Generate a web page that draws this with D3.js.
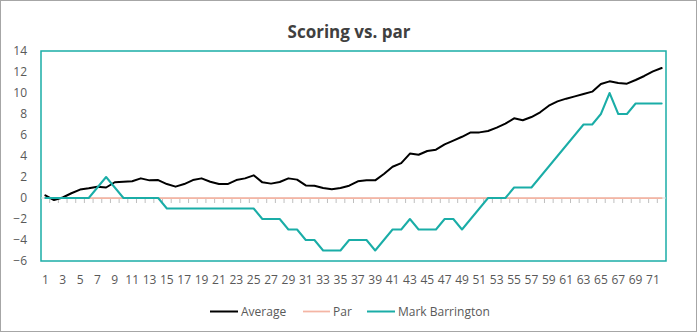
<!DOCTYPE html>
<html>
<head>
<meta charset="utf-8">
<script src="https://cdn.jsdelivr.net/npm/d3@7"></script>
<style>
  html, body { margin: 0; padding: 0; background: #fff; }
  svg { display: block; }
  text { font-family: "Open Sans", "Noto Sans", sans-serif; }
</style>
</head>
<body>
<svg id="chart" width="699" height="333"></svg>
<script>
const categories = d3.range(1, 73);
const average = [
  0.25, -0.2, 0.05, 0.45, 0.8, 0.92, 1.08, 1.0, 1.5, 1.55,
  1.6, 1.87, 1.68, 1.71, 1.33, 1.08, 1.33, 1.71, 1.87, 1.55,
  1.33, 1.33, 1.71, 1.87, 2.16, 1.49, 1.37, 1.52, 1.87, 1.75,
  1.2, 1.17, 0.95, 0.83, 0.95, 1.17, 1.59, 1.68, 1.68, 2.29,
  2.98, 3.32, 4.23, 4.12, 4.48, 4.6, 5.11, 5.46, 5.83, 6.25,
  6.25, 6.38, 6.7, 7.08, 7.59, 7.4, 7.71, 8.16, 8.79, 9.2,
  9.46, 9.68, 9.9, 10.13, 10.86, 11.11, 10.95, 10.89, 11.24, 11.62,
  12.06, 12.38
];
const par = categories.map(() => 0);
const markBarrington = [
  0, 0, 0, 0, 0, 0, 1, 2, 1, 0,
  0, 0, 0, 0, -1, -1, -1, -1, -1, -1,
  -1, -1, -1, -1, -1, -2, -2, -2, -3, -3,
  -4, -4, -5, -5, -5, -4, -4, -4, -5, -4,
  -3, -3, -2, -3, -3, -3, -2, -2, -3, -2,
  -1, 0, 0, 0, 1, 1, 1, 2, 3, 4,
  5, 6, 7, 7, 8, 10, 8, 8, 9, 9,
  9, 9
];
const yTicks = [-6, -4, -2, 0, 2, 4, 6, 8, 10, 12, 14];
const seriesNames = ["Average", "Par", "Mark Barrington"];
const seriesColors = ["#000000", "#F4B5A4", "#1AADA7"];

(function () {
const svg = d3.select("#chart");
const pL = 41, pR = 666, pT = 51, pB = 261;

// outer border
svg.append("rect").attr("x", 0.5).attr("y", 0.5).attr("width", 696).attr("height", 331)
  .attr("fill", "#fff").attr("stroke", "#A6A6A6").attr("stroke-width", 1);

// title
svg.append("text").attr("x", 349).attr("y", 38).attr("text-anchor", "middle")
  .attr("font-size", 17).attr("font-weight", "bold").attr("fill", "#404040")
  .text("Scoring vs. par");

const x = d3.scaleBand().domain(categories).range([pL, pR]).padding(0);
const cx = d => x(d) + x.bandwidth() / 2;
const y = d3.scaleLinear().domain([-6, 14]).range([pB, pT]);

// plot area border
svg.append("rect").attr("x", pL).attr("y", pT).attr("width", pR - pL).attr("height", pB - pT)
  .attr("fill", "none").attr("stroke", "#1AADA7").attr("stroke-width", 1.5);

// y axis labels
const yAxis = d3.axisLeft(y).tickValues(yTicks).tickSize(0).tickPadding(14);
const gy = svg.append("g").attr("transform", `translate(${pL},0)`).call(yAxis);
gy.select(".domain").remove();
gy.selectAll("text").attr("font-size", 12).attr("fill", "#595959")
  .style("font-family", "'Open Sans', 'Noto Sans', sans-serif");

// x axis line at zero with tick marks between categories
const boundaries = d3.range(1, categories.length).map(i => pL + i * x.bandwidth());
svg.append("g").selectAll("line").data(boundaries).join("line")
  .attr("x1", d => d).attr("x2", d => d)
  .attr("y1", y(0)).attr("y2", y(0) + 5)
  .attr("stroke", "#BFBFBF").attr("stroke-width", 1);
svg.append("line").attr("x1", pL).attr("x2", pR).attr("y1", y(0)).attr("y2", y(0))
  .attr("stroke", "#D9D9D9").attr("stroke-width", 1);

// x labels (odd categories) at bottom
const xAxis = d3.axisBottom(x).tickValues(categories.filter(c => c % 2 === 1)).tickSize(0).tickPadding(0);
const gx = svg.append("g").attr("transform", `translate(0,${pB + 14})`).call(xAxis);
gx.select(".domain").remove();
gx.selectAll("text").attr("font-size", 12).attr("fill", "#595959")
  .style("font-family", "'Open Sans', 'Noto Sans', sans-serif");

// series
const line = d3.line().x((d, i) => cx(categories[i])).y(d => y(d));
const seriesData = [average, par, markBarrington];
const widths = [2, 1.75, 2];
seriesData.forEach((s, k) => {
  svg.append("path").datum(s).attr("d", line)
    .attr("fill", "none").attr("stroke", seriesColors[k]).attr("stroke-width", widths[k])
    .attr("stroke-linejoin", "round").attr("stroke-linecap", "round");
});

// legend
const legendItems = [
  { x1: 210, x2: 238, tx: 241 },
  { x1: 303, x2: 330, tx: 333 },
  { x1: 367, x2: 395, tx: 398 }
];
const lg = svg.append("g");
legendItems.forEach((it, k) => {
  lg.append("line").attr("x1", it.x1).attr("x2", it.x2).attr("y1", 311.5).attr("y2", 311.5)
    .attr("stroke", seriesColors[k]).attr("stroke-width", widths[k]);
  lg.append("text").attr("x", it.tx).attr("y", 311.5).attr("dy", "0.35em")
    .attr("font-size", 12).attr("fill", "#595959").text(seriesNames[k]);
});
})();
</script>
</body>
</html>
